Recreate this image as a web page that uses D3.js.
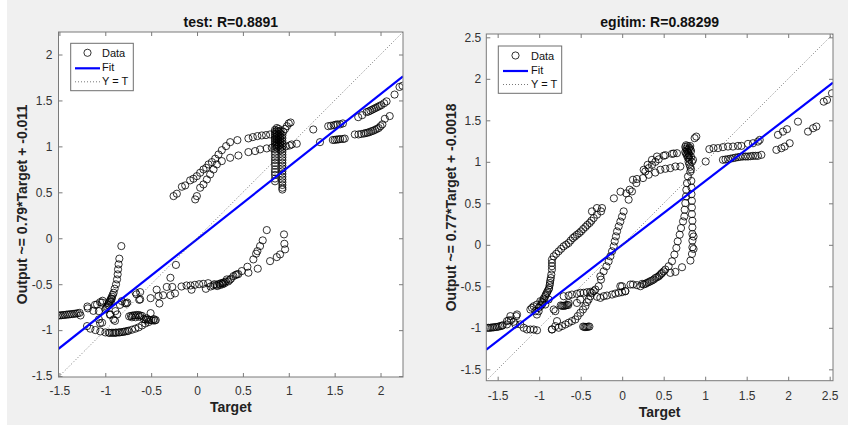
<!DOCTYPE html>
<html><head><meta charset="utf-8">
<script src="https://cdn.jsdelivr.net/npm/d3@7/dist/d3.min.js"></script>
<style>html,body{margin:0;padding:0;background:#fff;}</style>
</head><body>
<svg id="chart" width="848" height="430"></svg>
<script>
// ---------- DATA ----------
const testTitle = "test: R=0.8891";
const egitimTitle = "egitim: R=0.88299";
const testYLabel = "Output ~= 0.79*Target + -0.011";
const egitimYLabel = "Output ~= 0.77*Target + -0.0018";
const xLabel = "Target";
const legendLabels = ["Data", "Fit", "Y = T"];
const testTicks = [-1.5, -1, -0.5, 0, 0.5, 1, 1.5, 2];
const egitimTicks = [-1.5, -1, -0.5, 0, 0.5, 1, 1.5, 2, 2.5];
const testLimits = [-1.51, 2.245];
const egitimLimits = [-1.637, 2.54];
const testFit = [0.79, -0.011];      // slope, intercept
const egitimFit = [0.77, -0.0018];

// test panel points [Target, Output]
const testLeftCluster = [[-1.52,-0.84],[-1.50,-0.84],[-1.48,-0.838],[-1.46,-0.835],[-1.44,-0.835],[-1.42,-0.83],[-1.40,-0.83],[-1.38,-0.826],[-1.36,-0.825],[-1.34,-0.822],[-1.32,-0.82],[-1.30,-0.816],[-1.28,-0.812],[-1.27,-0.84]];
const testNearFit = [[-1.195,-0.743],[-1.19,-0.763],[-1.13,-0.79],[-1.112,-0.725],[-1.09,-0.72],[-1.057,-0.696],[-1.035,-0.70],[-1.03,-0.68],[-1.07,-0.793],[-1.07,-0.883],[-1.035,-0.919],[-1.057,-0.924],[-0.949,-0.833],[-0.894,-0.899],[-0.89,-0.793],[-0.91,-0.883],[-0.87,-0.829],[-0.945,-0.829],[-0.84,-0.725],[-0.82,-0.684],[-0.785,-0.707],[-0.77,-0.71],[-0.76,-0.70],[-0.67,-0.59],[-0.62,-0.586],[-0.62,-0.665],[-0.66,-0.61],[-0.63,-0.67]];
const testSteep = [[-0.999,-0.774],[-0.99,-0.76],[-0.981,-0.745],[-0.972,-0.727],[-0.963,-0.709],[-0.955,-0.69],[-0.945,-0.673],[-0.936,-0.655],[-0.927,-0.636],[-0.918,-0.615],[-0.909,-0.593],[-0.898,-0.549],[-0.883,-0.502],[-0.872,-0.448],[-0.865,-0.393],[-0.861,-0.339],[-0.855,-0.284],[-0.847,-0.222],[-0.825,-0.085],[-0.96,-0.73],[-0.94,-0.69],[-0.93,-0.66]];
const testLowerArc = [[-1.199,-0.956],[-1.163,-0.984],[-1.108,-0.999],[-1.054,-1.014],[-0.999,-1.025],[-0.963,-1.028],[-0.95,-1.03],[-0.927,-1.028],[-0.91,-1.03],[-0.891,-1.028],[-0.88,-1.027],[-0.855,-1.025],[-0.84,-1.024],[-0.818,-1.021],[-0.80,-1.018],[-0.782,-1.014],[-0.76,-1.01],[-0.746,-1.006],[-0.709,-0.995],[-0.673,-0.984],[-0.637,-0.97],[-0.60,-0.949],[-0.564,-0.927],[-0.528,-0.912]];
const testBlob = [[-0.74,-0.85],[-0.72,-0.845],[-0.70,-0.84],[-0.68,-0.84],[-0.66,-0.835],[-0.64,-0.835],[-0.62,-0.84],[-0.60,-0.845],[-0.71,-0.86],[-0.67,-0.86],[-0.63,-0.855],[-0.58,-0.88],[-0.56,-0.885],[-0.54,-0.885],[-0.52,-0.89],[-0.50,-0.89],[-0.48,-0.895],[-0.46,-0.895],[-0.45,-0.89],[-0.55,-0.87],[-0.47,-0.88]];
const testScatterMid = [[-0.506,-0.815],[-0.506,-0.652],[-0.44,-0.56],[-0.42,-0.63],[-0.41,-0.71],[-0.37,-0.62],[-0.33,-0.53],[-0.29,-0.43],[-0.27,-0.53],[-0.29,-0.62],[-0.24,-0.6],[-0.23,-0.29]];
const testMiddleCurve = [[-0.169,-0.525],[-0.114,-0.514],[-0.071,-0.514],[-0.06,-0.56],[-0.024,-0.507],[0.023,-0.5],[0.067,-0.496],[0.096,-0.55],[0.121,-0.489],[0.147,-0.525],[0.176,-0.514],[0.19,-0.5],[0.212,-0.507],[0.22,-0.52],[0.241,-0.496],[0.25,-0.51],[0.26,-0.49],[0.277,-0.489],[0.28,-0.5],[0.29,-0.48],[0.30,-0.49],[0.314,-0.471],[0.325,-0.448],[0.34,-0.47],[0.357,-0.453],[0.37,-0.44],[0.397,-0.412],[0.42,-0.40],[0.434,-0.393],[0.45,-0.39],[0.488,-0.357],[0.549,-0.31],[0.56,-0.375],[0.614,-0.23],[0.644,-0.168],[0.658,-0.14],[0.662,-0.331],[0.687,-0.085],[0.716,-0.023],[0.76,0.089],[0.796,-0.249],[0.869,-0.205],[0.905,-0.176],[0.96,-0.121],[0.952,-0.06],[0.948,0.042]];
const testUpperArc = [[-0.256,0.459],[-0.22,0.485],[-0.165,0.561],[-0.129,0.575],[-0.075,0.63],[-0.039,0.648],[-0.002,0.676],[0.034,0.713],[0.07,0.749],[0.1,0.767],[0.125,0.804],[0.162,0.829],[0.198,0.866],[0.234,0.912],[0.27,0.959],[0.317,1.003],[0.361,1.046],[0.44,1.068],[0.56,1.087],[0.608,1.101],[0.658,1.112],[0.706,1.119],[0.752,1.123],[0.796,1.13]];
const testLowerUpperArc = [[-0.02,0.423],[-0.002,0.459],[0.034,0.55],[0.07,0.586],[0.107,0.64],[0.143,0.695],[0.18,0.749],[0.216,0.804],[0.27,0.84],[0.361,0.876],[0.451,0.901],[0.56,0.938],[0.633,0.949],[0.687,0.967],[0.76,0.978],[0.815,0.985],[0.97,1.0],[1.01,1.01],[1.032,1.021],[1.087,1.029]];
const testColumn = [[0.85,1.18],[0.85,1.16],[0.85,1.14],[0.85,1.12],[0.85,1.10],[0.85,1.08],[0.85,1.06],[0.85,1.04],[0.85,1.02],[0.85,1.00],[0.85,0.97],[0.85,0.94],[0.85,0.91],[0.85,0.88],[0.85,0.85],[0.85,0.82],[0.85,0.79],[0.85,0.75],[0.85,0.72],[0.85,0.69],[0.85,0.65],[0.85,0.62],
  [0.87,1.20],[0.87,1.17],[0.87,1.14],[0.87,1.11],[0.87,1.08],[0.87,1.05],[0.87,1.02],[0.87,0.99],
  [0.89,1.19],[0.89,1.16],[0.89,1.13],[0.89,1.10],[0.89,1.07],[0.89,1.04],[0.89,1.01],
  [0.91,1.17],[0.91,1.14],[0.91,1.11],[0.91,1.08],[0.91,1.05],[0.91,1.02],[0.91,0.99],[0.91,0.96],
  [0.93,1.12],[0.93,1.09],[0.93,1.06],[0.93,1.03],[0.93,1.00],[0.93,0.97],[0.93,0.94],[0.93,0.91],[0.93,0.88],[0.93,0.85],[0.93,0.82],[0.93,0.79],[0.93,0.76],[0.93,0.73],[0.93,0.70],[0.93,0.67],[0.93,0.64],[0.93,0.61],[0.93,0.58],[0.93,0.55],[0.93,0.53],
  [0.94,1.16],[0.96,1.19],[0.98,1.22],[1.0,1.25],[1.02,1.26]];
const testRight = [[1.267,1.184],[1.34,1.046],
  [1.43,1.22],[1.46,1.225],[1.49,1.23],[1.51,1.235],[1.53,1.24],[1.56,1.24],[1.59,1.25],
  [1.48,1.07],[1.50,1.07],[1.52,1.075],[1.54,1.075],[1.56,1.08],[1.59,1.08],[1.61,1.085],
  [1.757,1.318],[1.80,1.34],[1.848,1.373],[1.87,1.38],[1.89,1.39],[1.91,1.40],[1.93,1.41],[1.95,1.42],[1.97,1.43],[1.99,1.44],[2.01,1.45],[2.04,1.47],[2.066,1.49],
  [1.72,1.13],[1.76,1.13],[1.79,1.135],[1.82,1.14],[1.84,1.145],[1.86,1.15],[1.88,1.155],[1.90,1.165],[1.92,1.17],[1.94,1.18],[1.96,1.19],[1.98,1.20],[2.00,1.22],[2.02,1.24],[2.047,1.30],[2.10,1.33],
  [2.153,1.564],[2.207,1.647],[2.24,1.66]];

// egitim panel points [Target, Output]
const egitimLeftCluster = [[-1.63,-1.0],[-1.61,-1.0],[-1.59,-1.0],[-1.57,-0.995],[-1.55,-0.995],[-1.53,-0.99],[-1.51,-0.99],[-1.49,-0.985],[-1.47,-0.98],[-1.45,-0.975],[-1.44,-0.97]];
const egitimNearFit = [[-1.388,-0.959],[-1.367,-0.91],[-1.34,-0.91],[-1.307,-0.927],[-1.275,-0.859],[-1.227,-0.959],[-1.187,-1.0],[-1.147,-1.02],[-1.106,-1.02],[-1.066,-1.02],[-1.026,-1.03],[-1.388,-0.919],[-1.347,-0.859],[-1.267,-0.839],[-1.287,-0.959],[-1.106,-0.779],[-1.086,-0.759],[-1.046,-0.799],[-1.006,-0.759],[-0.986,-0.679],[-0.966,-0.719],[-1.027,-0.84],[-0.926,-0.719],[-0.886,-0.659],[-0.825,-0.779],[-0.805,-0.799],[-0.785,-0.919],[-1.066,-0.74],[-1.027,-0.72],[-0.846,-1.02]];
const egitimSteep = [[-1.006,-0.80],[-0.986,-0.74],[-0.966,-0.686],[-0.96,-0.70],[-0.946,-0.647],[-0.94,-0.66],[-0.926,-0.619],[-0.92,-0.60],[-0.906,-0.578],[-0.90,-0.56],[-0.886,-0.538],[-0.88,-0.52],[-0.874,-0.487],[-0.87,-0.46],[-0.866,-0.43],[-0.86,-0.40],[-0.854,-0.358],[-0.846,-0.298],[-0.846,-0.258],[-0.846,-0.218],[-0.846,-0.178],[-0.825,-0.138],[-0.795,-0.108],[-0.765,-0.078],[-0.735,-0.048],[-0.705,-0.018],[-0.675,0.002],[-0.645,0.022],[-0.62,0.052],[-0.593,0.082],[-0.57,0.10],[-0.545,0.122],[-0.52,0.14],[-0.496,0.162],[-0.47,0.19],[-0.443,0.215],[-0.42,0.24],[-0.392,0.263],[-0.37,0.29],[-0.343,0.323],[-0.304,0.363],[-0.255,0.403],[-0.243,0.443]];
const egitimMiddleS = [[-0.846,-1.019],[-0.805,-0.979],[-0.765,-0.999],[-0.725,-0.979],[-0.684,-0.959],[-0.645,-0.939],[-0.605,-0.919],[-0.564,-0.899],[-0.536,-0.859],[-0.504,-0.819],[-0.472,-0.779],[-0.443,-0.739],[-0.424,-0.691],[-0.404,-0.659],[-0.383,-0.619],[-0.364,-0.579],[-0.323,-0.539],[-0.283,-0.499],[-0.255,-0.419],[-0.263,-0.379],[-0.223,-0.319],[-0.19,-0.259],[-0.163,-0.199],[-0.142,-0.138],[-0.122,-0.078],[-0.102,-0.018],[-0.09,0.042],[-0.075,0.102],[-0.062,0.162],[-0.042,0.222],[-0.022,0.28],[-0.002,0.34],[0.018,0.403],[0.078,0.544],[0.118,0.643],[0.09,0.664],[0.13,0.784],[0.171,0.744],[0.178,0.793],[0.251,0.804]];
const egitimRowMid = [[-0.705,-0.619],[-0.645,-0.611],[-0.605,-0.599],[-0.545,-0.59],[-0.504,-0.578],[-0.464,-0.578],[-0.424,-0.571],[-0.383,-0.566],[-0.343,-0.558],[-0.303,-0.626],[-0.263,-0.639],[-0.222,-0.619],[-0.183,-0.611],[-0.122,-0.599],[-0.082,-0.587],[-0.042,-0.578],[-0.002,-0.571],[0.038,-0.558],[-0.022,-0.498],[0.1,-0.478],[-0.645,-0.70],[-0.545,-0.70],[-0.504,-0.66]];
const egitimBlobs = [[-0.74,-0.73],[-0.725,-0.735],[-0.71,-0.735],[-0.695,-0.735],[-0.68,-0.73],[-0.665,-0.725],[-0.65,-0.725],
  [-0.47,-0.985],[-0.455,-0.99],[-0.44,-0.99],[-0.425,-0.99],[-0.41,-0.985],[-0.395,-0.985]];
const egitimRightCurve = [[-0.002,-0.499],[0.038,-0.559],[0.13,-0.478],[0.178,-0.486],[0.219,-0.499],[0.24,-0.47],[0.259,-0.478],[0.28,-0.47],[0.299,-0.458],[0.32,-0.45],[0.34,-0.438],[0.36,-0.43],[0.38,-0.418],[0.40,-0.40],[0.42,-0.39],[0.44,-0.38],[0.452,-0.366],[0.47,-0.35],[0.48,-0.338],[0.50,-0.32],[0.52,-0.298],[0.56,-0.258],[0.6,-0.198],[0.629,-0.118],[0.653,-0.038],[0.669,0.042],[0.693,0.122],[0.709,0.202],[0.733,0.282],[0.749,0.342],[0.753,0.423],[0.761,0.503],[0.769,0.583],[0.773,0.663],[0.781,0.743],[0.793,0.823]];
const egitimRightColumn = [[0.58,-0.338],[0.641,-0.326],[0.721,-0.27],[0.822,-0.19],[0.841,-0.11],[0.846,-0.03],[0.86,-0.05],[0.846,0.05],[0.86,0.1],[0.846,0.13],[0.846,0.21],[0.846,0.29],[0.84,0.37],[0.84,0.45],[0.84,0.53],[0.835,0.61],[0.835,0.69],[0.833,0.77]];
const egitimTopCluster = [[0.76,1.18],[0.77,1.16],[0.78,1.14],[0.79,1.12],[0.80,1.10],[0.81,1.08],[0.77,1.20],[0.79,1.19],[0.81,1.17],[0.82,1.15],[0.83,1.13],[0.80,1.06],[0.81,1.03],[0.80,1.0],[0.81,0.97],[0.82,0.94],[0.83,0.91],[0.82,0.88],[0.78,1.08],[0.79,1.05],[0.76,1.12],[0.77,1.10],[0.80,1.15],[0.82,1.19],[0.84,1.0],[0.83,1.06],[0.873,1.285],[0.893,1.304],[0.853,1.024],[1.006,1.004]];
const egitimArcs = [[-0.364,0.403],[-0.304,0.443],[-0.10,0.56],[-0.02,0.64],[0.05,0.62],
  [0.259,0.904],[0.279,0.884],[0.307,0.964],[0.319,0.924],[0.359,0.964],[0.359,1.024],[0.4,1.0],[0.419,1.064],[0.44,1.03],[0.5,1.073],[0.52,1.08],[0.6,1.096],[0.62,1.1],[0.66,1.104],
  [0.319,0.844],[0.399,0.871],[0.46,0.904],[0.52,0.916],[0.58,0.924],[0.641,0.944],[0.701,0.944]];
const egitimRight = [[1.05,1.153],[1.10,1.165],[1.154,1.165],[1.214,1.177],[1.275,1.184],[1.335,1.184],[1.395,1.192],[1.436,1.192],[1.516,1.216],[1.576,1.224],[1.636,1.244],[1.657,1.264],
  [1.214,1.024],[1.245,1.028],[1.275,1.032],[1.305,1.038],[1.335,1.044],[1.365,1.05],[1.395,1.056],[1.425,1.06],[1.455,1.064],[1.486,1.064],[1.516,1.064],[1.546,1.068],[1.576,1.072],[1.606,1.072],[1.636,1.072],[1.677,1.084],
  [1.858,1.144],[1.918,1.164],[1.958,1.184],[2.018,1.224],
  [1.877,1.325],[1.937,1.364],[1.986,1.393],[2.118,1.484],
  [2.239,1.364],[2.3,1.405],[2.34,1.425],
  [2.428,1.725],[2.468,1.745],[2.528,1.826]];

const testPoints = [].concat(testLeftCluster, testNearFit, testSteep, testLowerArc, testBlob, testScatterMid, testMiddleCurve, testUpperArc, testLowerUpperArc, testColumn, testRight);
const egitimPoints = [].concat(egitimLeftCluster, egitimNearFit, egitimSteep, egitimMiddleS, egitimRowMid, egitimBlobs, egitimRightCurve, egitimRightColumn, egitimTopCluster, egitimArcs, egitimRight);

// ---------- DRAW ----------
const FONT = "'Liberation Sans', Arial, Helvetica, sans-serif";
const R = 3.6;
const svg = d3.select("#chart");
svg.append("rect").attr("x", 7).attr("y", 0).attr("width", 841).attr("height", 425).attr("fill", "#f0f0f0");

function panel(cfg) {
  const {box, limits, ticks, points, fit, title, ylabel, ypad, xpad, ylabelX, titleY, xlabelY, legend, id} = cfg;
  const x = d3.scaleLinear().domain(limits).range([box.x0, box.x1]);
  const y = d3.scaleLinear().domain(limits).range([box.y1, box.y0]);
  const g = svg.append("g");
  g.append("rect").attr("x", box.x0).attr("y", box.y0).attr("width", box.x1 - box.x0).attr("height", box.y1 - box.y0).attr("fill", "#fff");

  const clip = g.append("clipPath").attr("id", "clip" + id);
  clip.append("rect").attr("x", box.x0).attr("y", box.y0).attr("width", box.x1 - box.x0).attr("height", box.y1 - box.y0);
  const plot = g.append("g").attr("clip-path", `url(#clip${id})`);

  plot.selectAll("circle").data(points).enter().append("circle")
    .attr("cx", d => x(d[0])).attr("cy", d => y(d[1])).attr("r", R)
    .attr("fill", "none").attr("stroke", "#000").attr("stroke-width", 0.8);

  plot.append("line")
    .attr("x1", x(limits[0])).attr("y1", y(fit[0] * limits[0] + fit[1]))
    .attr("x2", x(limits[1])).attr("y2", y(fit[0] * limits[1] + fit[1]))
    .attr("stroke", "#0000ff").attr("stroke-width", 2.2);
  plot.append("line")
    .attr("x1", x(limits[0])).attr("y1", y(limits[0]))
    .attr("x2", x(limits[1])).attr("y2", y(limits[1]))
    .attr("stroke", "#555").attr("stroke-width", 0.8).attr("stroke-dasharray", "1,2");

  const fmt = d => String(d);
  const styleAxis = (sel) => {
    sel.select(".domain").remove();
    sel.selectAll(".tick line").attr("stroke", "#7a7a7a");
    sel.selectAll("text").attr("fill", "#333").attr("font-size", 12).attr("font-family", FONT);
  };
  g.append("g").attr("transform", `translate(0,${box.y1})`)
    .call(d3.axisBottom(x).tickValues(ticks).tickSize(-4).tickPadding(xpad).tickFormat(fmt)).call(styleAxis);
  g.append("g").attr("transform", `translate(0,${box.y0})`)
    .call(d3.axisTop(x).tickValues(ticks).tickSize(-4).tickFormat("")).call(styleAxis);
  g.append("g").attr("transform", `translate(${box.x0},0)`)
    .call(d3.axisLeft(y).tickValues(ticks).tickSize(-4).tickPadding(ypad).tickFormat(fmt)).call(styleAxis);
  g.append("g").attr("transform", `translate(${box.x1},0)`)
    .call(d3.axisRight(y).tickValues(ticks).tickSize(-4).tickFormat("")).call(styleAxis);

  g.append("rect").attr("x", box.x0).attr("y", box.y0).attr("width", box.x1 - box.x0).attr("height", box.y1 - box.y0)
    .attr("fill", "none").attr("stroke", "#7a7a7a").attr("stroke-width", 1);

  const cx = (box.x0 + box.x1) / 2, cy = (box.y0 + box.y1) / 2;
  g.append("text").attr("x", cx).attr("y", titleY).attr("text-anchor", "middle")
    .attr("font-family", FONT).attr("font-size", 14).attr("font-weight", "bold").attr("fill", "#111").text(title);
  g.append("text").attr("x", cx).attr("y", xlabelY).attr("text-anchor", "middle")
    .attr("font-family", FONT).attr("font-size", 14).attr("font-weight", "bold").attr("fill", "#222").text(xLabel);
  g.append("text").attr("transform", `translate(${ylabelX},${cy}) rotate(-90)`).attr("text-anchor", "middle")
    .attr("font-family", FONT).attr("font-size", 14).attr("font-weight", "bold").attr("fill", "#222").text(ylabel);

  // legend
  const L = legend;
  g.append("rect").attr("x", L.x).attr("y", L.y).attr("width", L.w).attr("height", L.h)
    .attr("fill", "#fff").attr("stroke", "#6e6e6e").attr("stroke-width", 1);
  g.append("circle").attr("cx", L.sx + 12.5).attr("cy", L.y + 9.5).attr("r", R)
    .attr("fill", "none").attr("stroke", "#000").attr("stroke-width", 0.8);
  g.append("line").attr("x1", L.sx).attr("x2", L.sx + 25).attr("y1", L.y + 25).attr("y2", L.y + 25)
    .attr("stroke", "#0000ff").attr("stroke-width", 2.2);
  g.append("line").attr("x1", L.sx).attr("x2", L.sx + 25).attr("y1", L.y + 38.5).attr("y2", L.y + 38.5)
    .attr("stroke", "#555").attr("stroke-width", 0.8).attr("stroke-dasharray", "1,2");
  legendLabels.forEach((t, i) => {
    g.append("text").attr("x", L.tx).attr("y", L.y + 13.5 + i * 14.2)
      .attr("font-family", FONT).attr("font-size", 11).attr("fill", "#111").text(t);
  });
}

panel({
  id: "a", box: {x0: 58.5, x1: 403, y0: 32, y1: 377}, limits: testLimits, ticks: testTicks,
  points: testPoints, fit: testFit, title: testTitle, ylabel: testYLabel,
  ypad: 6, xpad: 9.5, ylabelX: 27, titleY: 26.7, xlabelY: 412.3,
  legend: {x: 70.7, y: 43.3, w: 62.6, h: 47.4, sx: 75, tx: 102}
});
panel({
  id: "b", box: {x0: 486.3, x1: 833, y0: 34, y1: 380.7}, limits: egitimLimits, ticks: egitimTicks,
  points: egitimPoints, fit: egitimFit, title: egitimTitle, ylabel: egitimYLabel,
  ypad: 5, xpad: 10.5, ylabelX: 455.5, titleY: 27.3, xlabelY: 417.3,
  legend: {x: 498.3, y: 46, w: 63.4, h: 47.3, sx: 503, tx: 531}
});
</script>
</body></html>
